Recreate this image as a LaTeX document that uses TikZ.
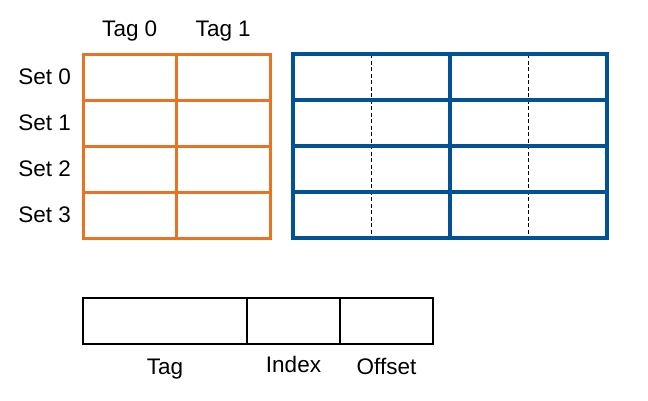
\documentclass[tikz,border=0pt]{standalone}
\usepackage{fontspec}
\setmainfont{Liberation Sans}
\usetikzlibrary{positioning,backgrounds}
\definecolor{tagorange}{RGB}{230,116,36}
\definecolor{lineblue}{RGB}{0,82,148}

\begin{document}
\begin{tikzpicture}[
 x=1pt, y=-1pt,
 node distance=0pt,
 font=\fontsize{22.5}{27}\selectfont,
 tagcell/.style={rectangle, draw=tagorange, line width=3pt, minimum width=93.5pt, minimum height=46pt, inner sep=0pt, outer sep=0pt},
 linecell/.style={rectangle, draw=lineblue, line width=3.2pt, minimum width=157pt, minimum height=46pt, inner sep=0pt, outer sep=0pt},
 field/.style={rectangle, draw=black, line width=2.8pt, minimum height=46pt, inner sep=0pt, outer sep=0pt},
 wordsplit/.style={draw=black, line width=1pt, dash pattern=on 4pt off 2.5pt},
 label/.style={inner sep=0pt, outer sep=0pt}
]
\useasboundingbox (0,0) rectangle (648,400);

% Tag array (orange)
\node[tagcell] (t00) at (129.75,77) {};
\node[tagcell, right=of t00] (t01) {};
\node[tagcell, below=of t00] (t10) {};
\node[tagcell, right=of t10] (t11) {};
\node[tagcell, below=of t10] (t20) {};
\node[tagcell, right=of t20] (t21) {};
\node[tagcell, below=of t20] (t30) {};
\node[tagcell, right=of t30] (t31) {};

% Set and tag labels
\node[label, left=12pt of t00] (set0) {Set 0};
\node[label, left=12pt of t10] (set1) {Set 1};
\node[label, left=12pt of t20] (set2) {Set 2};
\node[label, left=12pt of t30] (set3) {Set 3};
\node[label, above=13pt of t00] (tag0) {Tag 0};
\node[label, above=13pt of t01] (tag1) {Tag 1};

% Data array (blue)
\node[linecell] (d00) at (371.5,77) {};
\node[linecell, right=of d00] (d01) {};
\node[linecell, below=of d00] (d10) {};
\node[linecell, right=of d10] (d11) {};
\node[linecell, below=of d10] (d20) {};
\node[linecell, right=of d20] (d21) {};
\node[linecell, below=of d20] (d30) {};
\node[linecell, right=of d30] (d31) {};

% Word boundaries
\begin{pgfonlayer}{background}
\draw[wordsplit] (d00.north) -- (d30.south);
\draw[wordsplit] (d01.north) -- (d31.south);
\end{pgfonlayer}

% Address fields
\node[field, minimum width=164pt] (ftag) at (165,321) {};
\node[field, minimum width=93pt, right=of ftag] (findex) {};
\node[field, minimum width=93pt, right=of findex] (foffset) {};

\node[label, below=15pt of ftag] (ltag) {Tag};
\node[label, below=12pt of findex] (lindex) {Index};
\node[label, below=14pt of foffset] (loffset) {Offset};

\end{tikzpicture}
\end{document}
